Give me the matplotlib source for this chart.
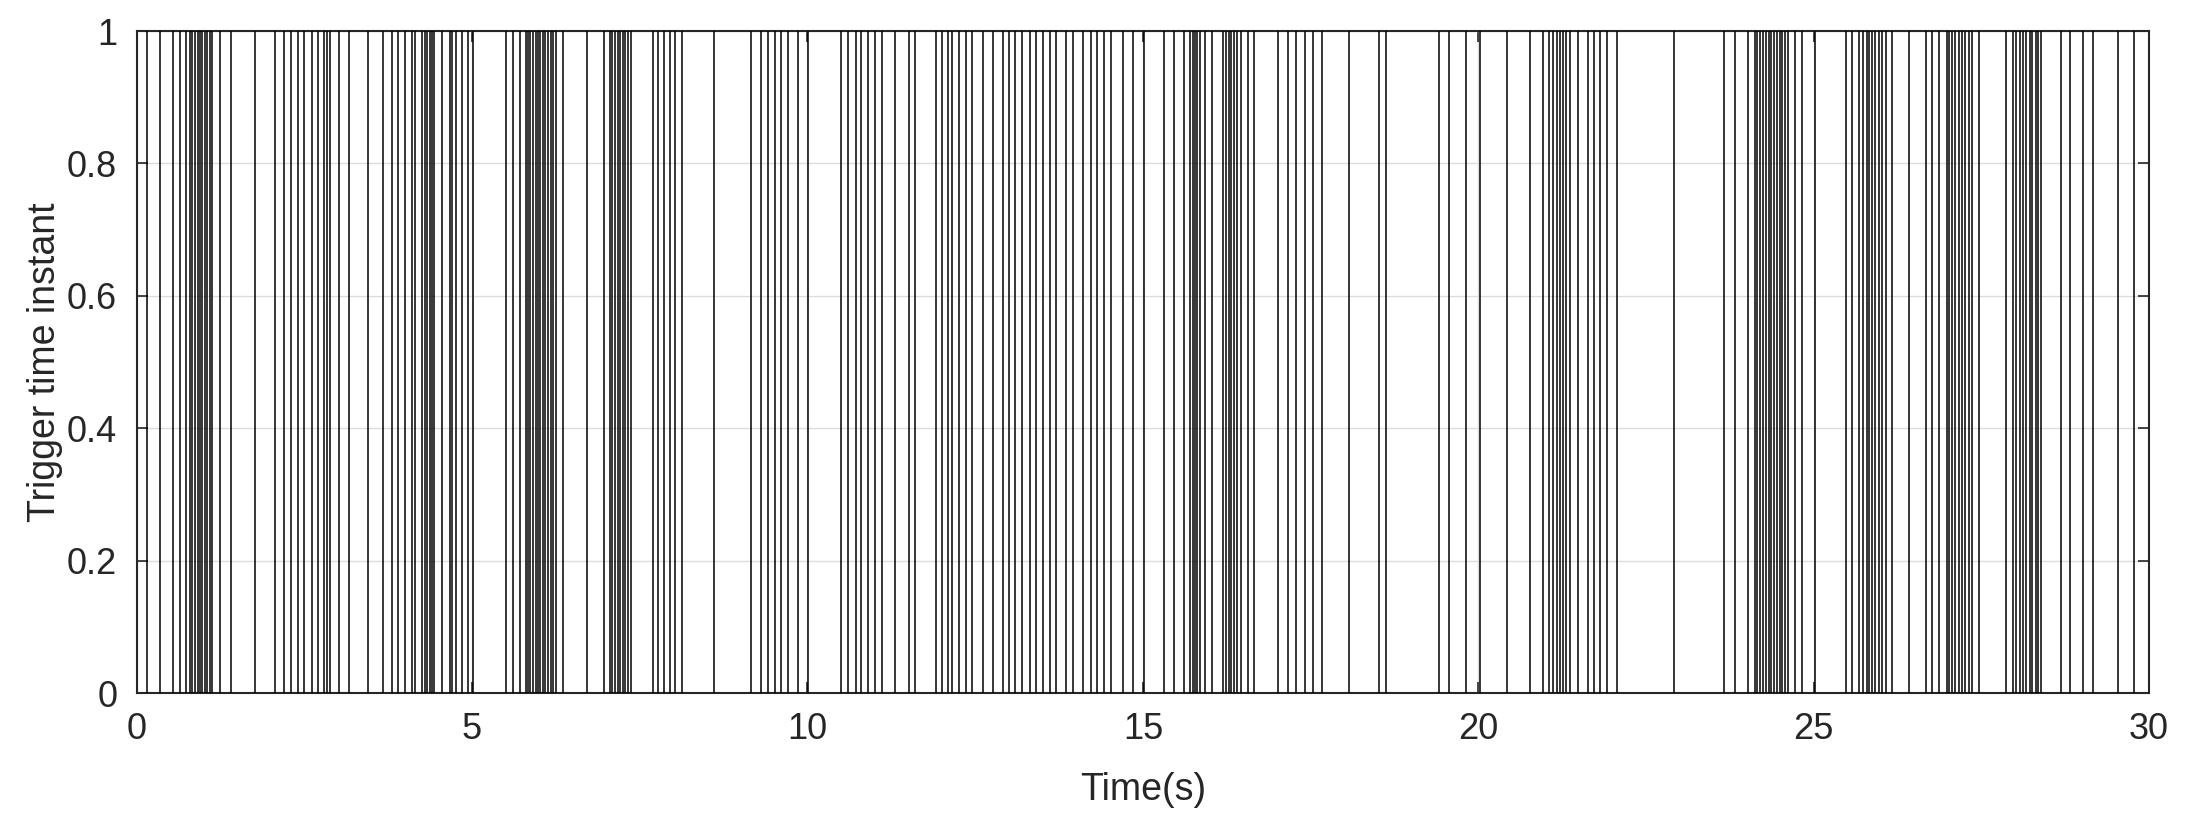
import matplotlib
matplotlib.use("Agg")
import matplotlib.pyplot as plt

trigger_times = [
    0.15, 0.35, 0.54, 0.65, 0.74, 0.79, 0.83, 0.87, 0.91, 0.94, 0.98, 1.02, 1.05, 1.09, 1.13, 1.25, 1.40, 1.76,
    2.06, 2.19, 2.30, 2.40, 2.50, 2.62, 2.70, 2.79, 2.84, 2.89, 3.01, 3.16, 3.45, 3.67, 3.80, 3.90,
    4.00, 4.11, 4.15, 4.25, 4.30, 4.33, 4.37, 4.41, 4.44, 4.55, 4.67, 4.70, 4.76, 4.85, 4.94, 5.01,
    5.50, 5.61, 5.71, 5.81, 5.84, 5.87, 5.91, 5.95, 5.98, 6.02, 6.06, 6.09, 6.13, 6.17, 6.21, 6.25, 6.36,
    6.71, 6.96, 7.06, 7.09, 7.13, 7.17, 7.21, 7.25, 7.28, 7.32, 7.37, 7.70, 7.77, 7.86, 7.95, 8.03, 8.13,
    8.61, 9.16, 9.30, 9.41, 9.51, 9.60, 9.71, 9.86, 10.01, 10.50, 10.61, 10.72, 10.80, 10.90,
    11.01, 11.11, 11.31, 11.51, 11.61, 11.91, 12.01, 12.10, 12.15, 12.26, 12.36, 12.46, 12.61, 12.76,
    12.91, 13.01, 13.10, 13.20, 13.31, 13.41, 13.51, 13.61, 13.70, 13.86, 13.96, 14.11, 14.22, 14.32,
    14.42, 14.52, 14.71, 14.86, 15.01, 15.31, 15.46, 15.61, 15.70, 15.74, 15.78, 15.81, 15.85, 15.92,
    16.03, 16.20, 16.24, 16.28, 16.32, 16.36, 16.40, 16.47, 16.57, 16.66, 17.02, 17.17, 17.28,
    17.42, 17.53, 17.67, 18.07, 18.52, 18.63, 19.41, 19.56, 19.82, 20.03, 20.43, 20.77, 20.97, 21.06,
    21.11, 21.17, 21.22, 21.27, 21.31, 21.37, 21.48, 21.63, 21.72, 21.82, 21.92, 22.07, 22.92, 23.67,
    23.82, 24.02, 24.12, 24.16, 24.20, 24.24, 24.29, 24.33, 24.37, 24.41, 24.45, 24.49, 24.53, 24.57,
    24.62, 24.72, 24.82, 25.02, 25.48, 25.57, 25.67, 25.74, 25.79, 25.83, 25.87, 25.92, 25.97, 26.02,
    26.07, 26.17, 26.42, 26.68, 26.77, 26.87, 26.98, 27.02, 27.06, 27.11, 27.16, 27.21, 27.26, 27.31,
    27.36, 27.46, 27.87, 27.97, 28.02, 28.07, 28.12, 28.17, 28.22, 28.26, 28.31, 28.35, 28.39, 28.68,
    28.82, 29.02, 29.17, 29.54, 29.78,
]
trigger_level = 1.0

x_ticks = [0, 5, 10, 15, 20, 25, 30]
x_tick_labels = ["0", "5", "10", "15", "20", "25", "30"]
y_ticks = [0, 0.2, 0.4, 0.6, 0.8, 1]
y_tick_labels = ["0", "0.2", "0.4", "0.6", "0.8", "1"]

plt.rcParams['font.family'] = ['Liberation Sans', 'DejaVu Sans']

fig = plt.figure(figsize=(21.93, 8.21), dpi=100)
ax = fig.add_axes([0.0623, 0.1559, 0.9177, 0.8063])

ax.vlines(trigger_times, 0, trigger_level, colors='black', linewidth=1.1, zorder=3)

ax.set_xlim(0, 30)
ax.set_ylim(0, 1)
ax.set_xticks(x_ticks)
ax.set_xticklabels(x_tick_labels)
ax.set_yticks(y_ticks)
ax.set_yticklabels(y_tick_labels)

ax.grid(True, color='#dcdcdc', linewidth=1.0, zorder=0)
ax.set_axisbelow(True)

ax.tick_params(axis='both', which='both', direction='in', length=8, width=1.2,
               top=True, right=True, labelsize=26, colors='#262626', pad=14)
for s in ax.spines.values():
    s.set_color('#262626')
    s.set_linewidth(1.5)

ax.set_xlabel('Time(s)', fontsize=27, color='#262626', labelpad=18)
ax.set_ylabel('Trigger time instant', fontsize=27, color='#262626', labelpad=3)

fig.savefig('out.png', dpi=100)
